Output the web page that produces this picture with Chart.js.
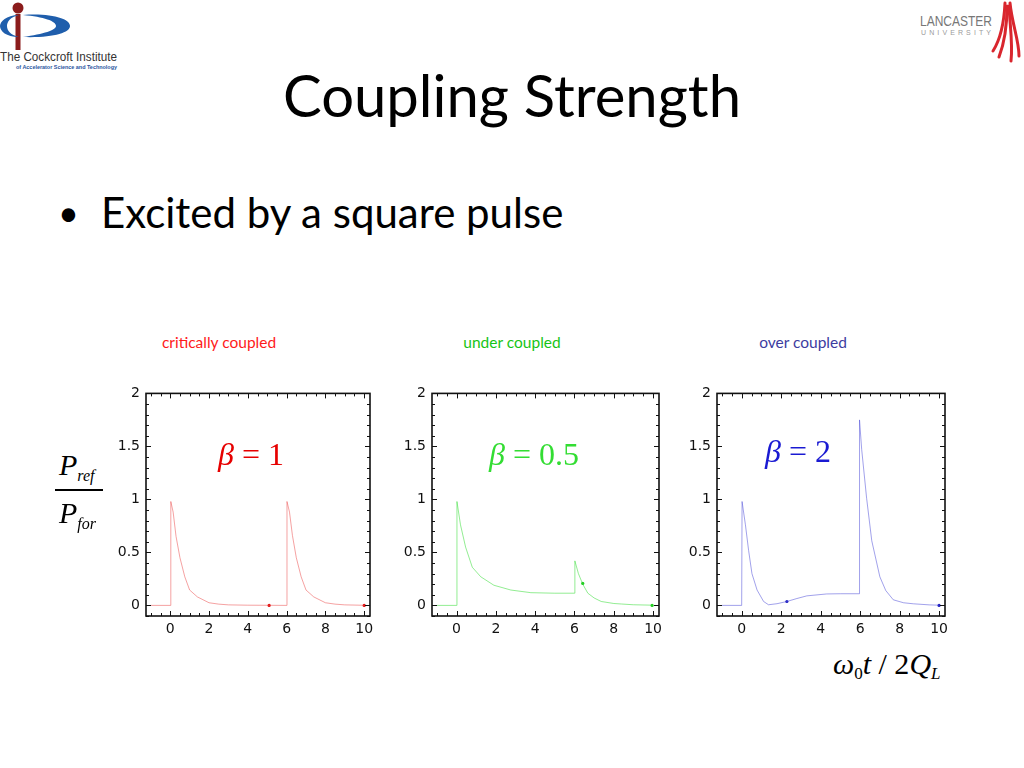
<!DOCTYPE html>
<html>
<head>
<meta charset="utf-8">
<script src="https://cdn.jsdelivr.net/npm/chart.js@4.4.1/dist/chart.umd.min.js"></script>
<style>
  html, body { margin: 0; padding: 0; background: #fff; }
  #slide { position: relative; width: 1024px; height: 768px; overflow: hidden; background: #fff; }
  .abs { position: absolute; white-space: nowrap; }
  #title { left: 0; width: 1024px; top: 66px; text-align: center; font-family: Lato, "Open Sans", sans-serif; font-size: 58px; line-height: 1; color: #000; }
  #bullet { left: 58px; top: 191px; font-family: Lato, "Open Sans", sans-serif; font-size: 42px; line-height: 1; color: #000; }
  #bullet span { display: inline-block; width: 43px; font-size: 36px; vertical-align: 2px; }
  .ctitle { top: 335px; width: 200px; text-align: center; font-family: Lato, "Open Sans", sans-serif; font-size: 15.5px; line-height: 1; }
  .beta { font-family: "Liberation Serif", "Times New Roman", serif; font-size: 32px; line-height: 1; }
  .beta i { font-style: italic; }
  .math { font-family: "Liberation Serif", "Times New Roman", serif; font-style: italic; line-height: 1; color: #000; }
  canvas { position: absolute; }
</style>
</head>
<body>
<div id="slide">
  <!-- Cockcroft Institute logo -->
  <svg class="abs" style="left:0;top:0" width="125" height="75">
    <circle cx="18" cy="8" r="5.5" fill="#8b1c1c"/>
    <rect x="15.5" y="14" width="5" height="36" fill="#8b1c1c"/>
    <path d="M19,15 C6,15 0,22 0,26 C0,31 6,37 19,37 C10,35 7,30 7,26 C7,22 10,17 19,15 Z" fill="#1f5eac"/>
    <path d="M23,15 C52,13 70,19 70,26 C70,33 52,38 23,37 C44,34 56,30 56,26 C56,21 44,17 23,15 Z" fill="#1f5eac"/>
    <text x="0" y="61" font-family="Liberation Sans, Arial, sans-serif" font-size="12" fill="#333" textLength="117" lengthAdjust="spacingAndGlyphs">The Cockcroft Institute</text>
    <text x="16" y="68.5" font-family="Liberation Sans, Arial, sans-serif" font-size="6" font-weight="bold" fill="#2a56a0" textLength="101" lengthAdjust="spacingAndGlyphs">of Accelerator Science and Technology</text>
  </svg>
  <!-- Lancaster University logo -->
  <svg class="abs" style="left:900px;top:0" width="124" height="70">
    <text x="20" y="26" font-family="Liberation Sans, Arial, sans-serif" font-size="15" fill="#777" textLength="72" lengthAdjust="spacingAndGlyphs">LANCASTER</text>
    <text x="21" y="35" font-family="Liberation Sans, Arial, sans-serif" font-size="7" fill="#9a9a9a" textLength="70" lengthAdjust="spacing">UNIVERSITY</text>
    <g fill="none" stroke="#d9262e" stroke-width="3" stroke-linecap="round">
      <path d="M105,3 C104,24 100,40 93,51"/>
      <path d="M107,6 C107,27 104,44 99,57"/>
      <path d="M109,6 C110,27 113,44 111,61"/>
      <path d="M110,3 C112,24 119,40 119,56"/>
    </g>
  </svg>

  <div id="title" class="abs">Coupling Strength</div>
  <div id="bullet" class="abs"><span>•</span>Excited by a square pulse</div>

  <div class="abs ctitle" style="left:119px;color:#ff1a1a">critically coupled</div>
  <div class="abs ctitle" style="left:412px;color:#16c416">under coupled</div>
  <div class="abs ctitle" style="left:703px;color:#3c3ca0">over coupled</div>

  <canvas id="c1" width="281" height="267" style="left:101px;top:379px"></canvas>
  <canvas id="c2" width="284" height="267" style="left:387px;top:379px"></canvas>
  <canvas id="c3" width="285" height="267" style="left:672px;top:379px"></canvas>

  <div class="abs beta" style="left:218px;top:438px;color:#e60000"><i>β</i> = 1</div>
  <div class="abs beta" style="left:489px;top:438px;color:#33dd33"><i>β</i> = 0.5</div>
  <div class="abs beta" style="left:765px;top:435px;color:#1a1ad2"><i>β</i> = 2</div>

  <!-- y axis label: P_ref / P_for -->
  <div class="abs math" style="left:59px;top:450px;font-size:30px">P<sub style="font-size:16px;vertical-align:-6px">ref</sub></div>
  <div class="abs" style="left:55px;top:489px;width:48px;height:1.5px;background:#000"></div>
  <div class="abs math" style="left:59px;top:498px;font-size:30px">P<sub style="font-size:16px;vertical-align:-6px">for</sub></div>

  <!-- x axis label -->
  <div class="abs math" style="left:833px;top:649px;font-size:30px">ω<sub style="font-style:normal;font-size:17px;vertical-align:-5px">0</sub>t<span style="font-style:normal"> / 2</span>Q<sub style="font-size:17px;vertical-align:-5px">L</sub></div>
</div>

<script>
// axis ticks, shared by the three panels
const xTickLabels = [0, 2, 4, 6, 8, 10];
const yTickLabels = [0, 0.5, 1, 1.5, 2];
const X_MINOR = 0.5;
const Y_MINOR = 0.1;

// critically coupled, beta = 1
const critX = [-1, 0, 0.03, 0.15, 0.3, 0.5, 0.75, 1.0, 1.4, 2.0, 2.5, 3.0, 4.0, 5.0, 6.0, 6.02, 6.15, 6.3, 6.5, 6.75, 7.0, 7.4, 8.0, 8.5, 9.0, 10.0];
const critY = [0, 0, 0.98, 0.88, 0.65, 0.45, 0.27, 0.145, 0.08, 0.025, 0.012, 0.005, 0.002, 0.001, 0, 0.98, 0.88, 0.66, 0.45, 0.27, 0.145, 0.08, 0.025, 0.012, 0.005, 0.001];
const critDotX = [5.1, 10];
const critDotY = [0, 0];

// under coupled, beta = 0.5
const underX = [-1, 0, 0.02, 0.2, 0.46, 0.8, 1.23, 1.9, 2.76, 3.78, 5.0, 6.0, 6.02, 6.2, 6.42, 6.68, 7.0, 7.36, 8.0, 8.4, 9.0, 10.0];
const underY = [0, 0, 0.98, 0.76, 0.55, 0.36, 0.27, 0.19, 0.145, 0.12, 0.115, 0.115, 0.42, 0.3, 0.2, 0.115, 0.07, 0.037, 0.018, 0.013, 0.006, 0.002];
const underDotX = [6.42, 9.95];
const underDotY = [0.207, 0];

// over coupled, beta = 2
const overX = [-1, 0, 0.02, 0.19, 0.35, 0.52, 0.78, 1.11, 1.36, 1.79, 2.29, 2.8, 3.3, 4.31, 5.0, 5.95, 5.97, 6.08, 6.33, 6.59, 7.0, 7.3, 7.68, 8.2, 8.7, 9.5, 10.0];
const overY = [0, 0, 0.98, 0.76, 0.52, 0.30, 0.145, 0.037, 0.006, 0.016, 0.037, 0.065, 0.09, 0.108, 0.11, 0.11, 1.75, 1.47, 1.01, 0.61, 0.27, 0.14, 0.053, 0.025, 0.015, 0.005, 0.002];
const overDotX = [2.29, 10];
const overDotY = [0.037, 0];

function pts(xs, ys) {
  return xs.map((x, i) => ({ x, y: ys[i] }));
}

// frame + inward ticks on all four sides (Mathematica style)
const frameTicks = {
  id: 'frameTicks',
  afterDraw(chart) {
    const { ctx, chartArea: a, scales: { x, y } } = chart;
    ctx.save();
    ctx.strokeStyle = '#111';
    ctx.lineWidth = 1;
    ctx.beginPath();
    const nx0 = Math.ceil(x.min / X_MINOR), nx1 = Math.floor(x.max / X_MINOR);
    for (let i = nx0; i <= nx1; i++) {
      const v = i * X_MINOR;
      const px = Math.round(x.getPixelForValue(v)) + 0.5;
      const len = xTickLabels.includes(v) ? 5 : 3;
      ctx.moveTo(px, a.bottom); ctx.lineTo(px, a.bottom - len);
      ctx.moveTo(px, a.top); ctx.lineTo(px, a.top + len);
    }
    const ny0 = Math.ceil(y.min / Y_MINOR - 1e-6), ny1 = Math.floor(y.max / Y_MINOR + 1e-6);
    for (let i = ny0; i <= ny1; i++) {
      const v = Math.round(i * Y_MINOR * 10) / 10;
      const py = Math.round(y.getPixelForValue(v)) + 0.5;
      const len = yTickLabels.includes(v) ? 5 : 3;
      ctx.moveTo(a.left, py); ctx.lineTo(a.left + len, py);
      ctx.moveTo(a.right, py); ctx.lineTo(a.right - len, py);
    }
    ctx.stroke();
    ctx.lineWidth = 1.6;
    ctx.strokeRect(a.left, a.top, a.right - a.left, a.bottom - a.top);
    ctx.restore();
  }
};

const tickFont = { family: "'DejaVu Sans', sans-serif", size: 14 };

function makeChart(id, xs, ys, dx, dy, lineColor, dotColor) {
  return new Chart(document.getElementById(id), {
    type: 'line',
    data: {
      datasets: [
        { data: pts(xs, ys), borderColor: lineColor, borderWidth: 1, pointRadius: 0, tension: 0, fill: false },
        { type: 'scatter', data: pts(dx, dy), backgroundColor: dotColor, borderWidth: 0, pointRadius: 1.6 }
      ]
    },
    options: {
      responsive: false,
      animation: false,
      devicePixelRatio: 1,
      layout: { padding: { left: 0, top: 12, right: 12, bottom: 0 } },
      plugins: { legend: { display: false }, tooltip: { enabled: false } },
      scales: {
        x: {
          type: 'linear', min: -1.25, max: 10.3,
          grid: { display: false, drawTicks: false },
          border: { display: false },
          afterBuildTicks: ax => { ax.ticks = xTickLabels.map(v => ({ value: v })); },
          afterFit: s => { s.height = 30; },
          ticks: { font: tickFont, color: '#111', padding: 5, maxRotation: 0, autoSkip: false, callback: v => String(v) }
        },
        y: {
          type: 'linear', min: -0.1, max: 2,
          grid: { display: false, drawTicks: false },
          border: { display: false },
          afterBuildTicks: ax => { ax.ticks = yTickLabels.map(v => ({ value: v })); },
          afterFit: s => { s.width = 45; },
          ticks: { font: tickFont, color: '#111', padding: 6, autoSkip: false, callback: v => String(v) }
        }
      }
    },
    plugins: [frameTicks]
  });
}

makeChart('c1', critX, critY, critDotX, critDotY, 'rgba(235,70,70,0.5)', '#e01010');
makeChart('c2', underX, underY, underDotX, underDotY, 'rgba(40,220,40,0.5)', '#22cc22');
makeChart('c3', overX, overY, overDotX, overDotY, 'rgba(70,70,215,0.5)', '#2020c0');
</script>
</body>
</html>
